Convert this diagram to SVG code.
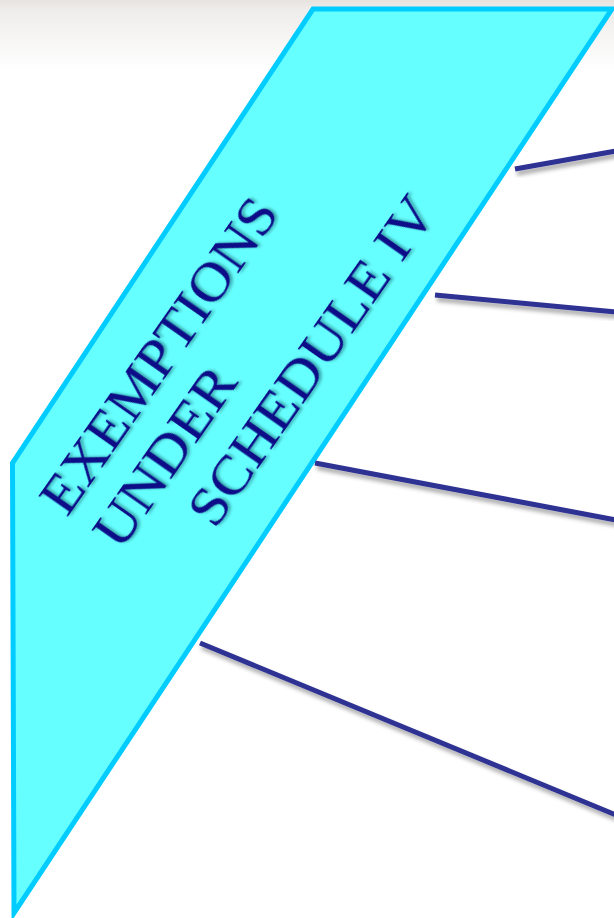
<svg xmlns="http://www.w3.org/2000/svg" width="614" height="918" viewBox="0 0 614 918">
  <defs>
    <linearGradient id="topShade" x1="0" y1="0" x2="0" y2="1">
      <stop offset="0" stop-color="#e8e3df"/>
      <stop offset="0.15" stop-color="#efedeb"/>
      <stop offset="1" stop-color="#ffffff"/>
    </linearGradient>
    <filter id="lineShadow" x="-10%" y="-50%" width="120%" height="200%">
      <feDropShadow dx="2" dy="4" stdDeviation="2" flood-color="#000" flood-opacity="0.35"/>
    </filter>
    <filter id="textShadow" x="-10%" y="-20%" width="120%" height="140%">
      <feDropShadow dx="2" dy="2" stdDeviation="1.5" flood-color="#003040" flood-opacity="0.45"/>
    </filter>
  </defs>
  <style>
    .banner { fill: #66ffff; stroke: #00ccff; stroke-width: 5; stroke-linejoin: miter; }
    .title { font-family: "Liberation Serif", "DejaVu Serif", serif; font-size: 54px; fill: #0a0a88; filter: url(#textShadow); }
    .conn { stroke: #2e3192; stroke-width: 5; fill: none; filter: url(#lineShadow); }
  </style>
  <rect x="0" y="0" width="614" height="918" fill="#ffffff"/>
  <rect x="0" y="0" width="614" height="70" fill="url(#topShade)"/>
  <g id="banner">
    <polygon class="banner" points="313,9 612,9 14,913 12.5,463"/>
    <g transform="rotate(-55)">
      <text class="title" x="-386" y="352" textLength="372" lengthAdjust="spacingAndGlyphs">EXEMPTIONS</text>
      <text class="title" x="-383" y="415" textLength="207" lengthAdjust="spacingAndGlyphs">UNDER</text>
      <text class="title" x="-311" y="480" textLength="388" lengthAdjust="spacingAndGlyphs">SCHEDULE IV</text>
    </g>
  </g>
  <g id="connectors">
    <line class="conn" x1="515" y1="169" x2="616" y2="151"/>
    <line class="conn" x1="435" y1="295" x2="616" y2="312"/>
    <line class="conn" x1="315" y1="463" x2="616" y2="520"/>
    <line class="conn" x1="200" y1="643" x2="616" y2="815"/>
  </g>
</svg>
